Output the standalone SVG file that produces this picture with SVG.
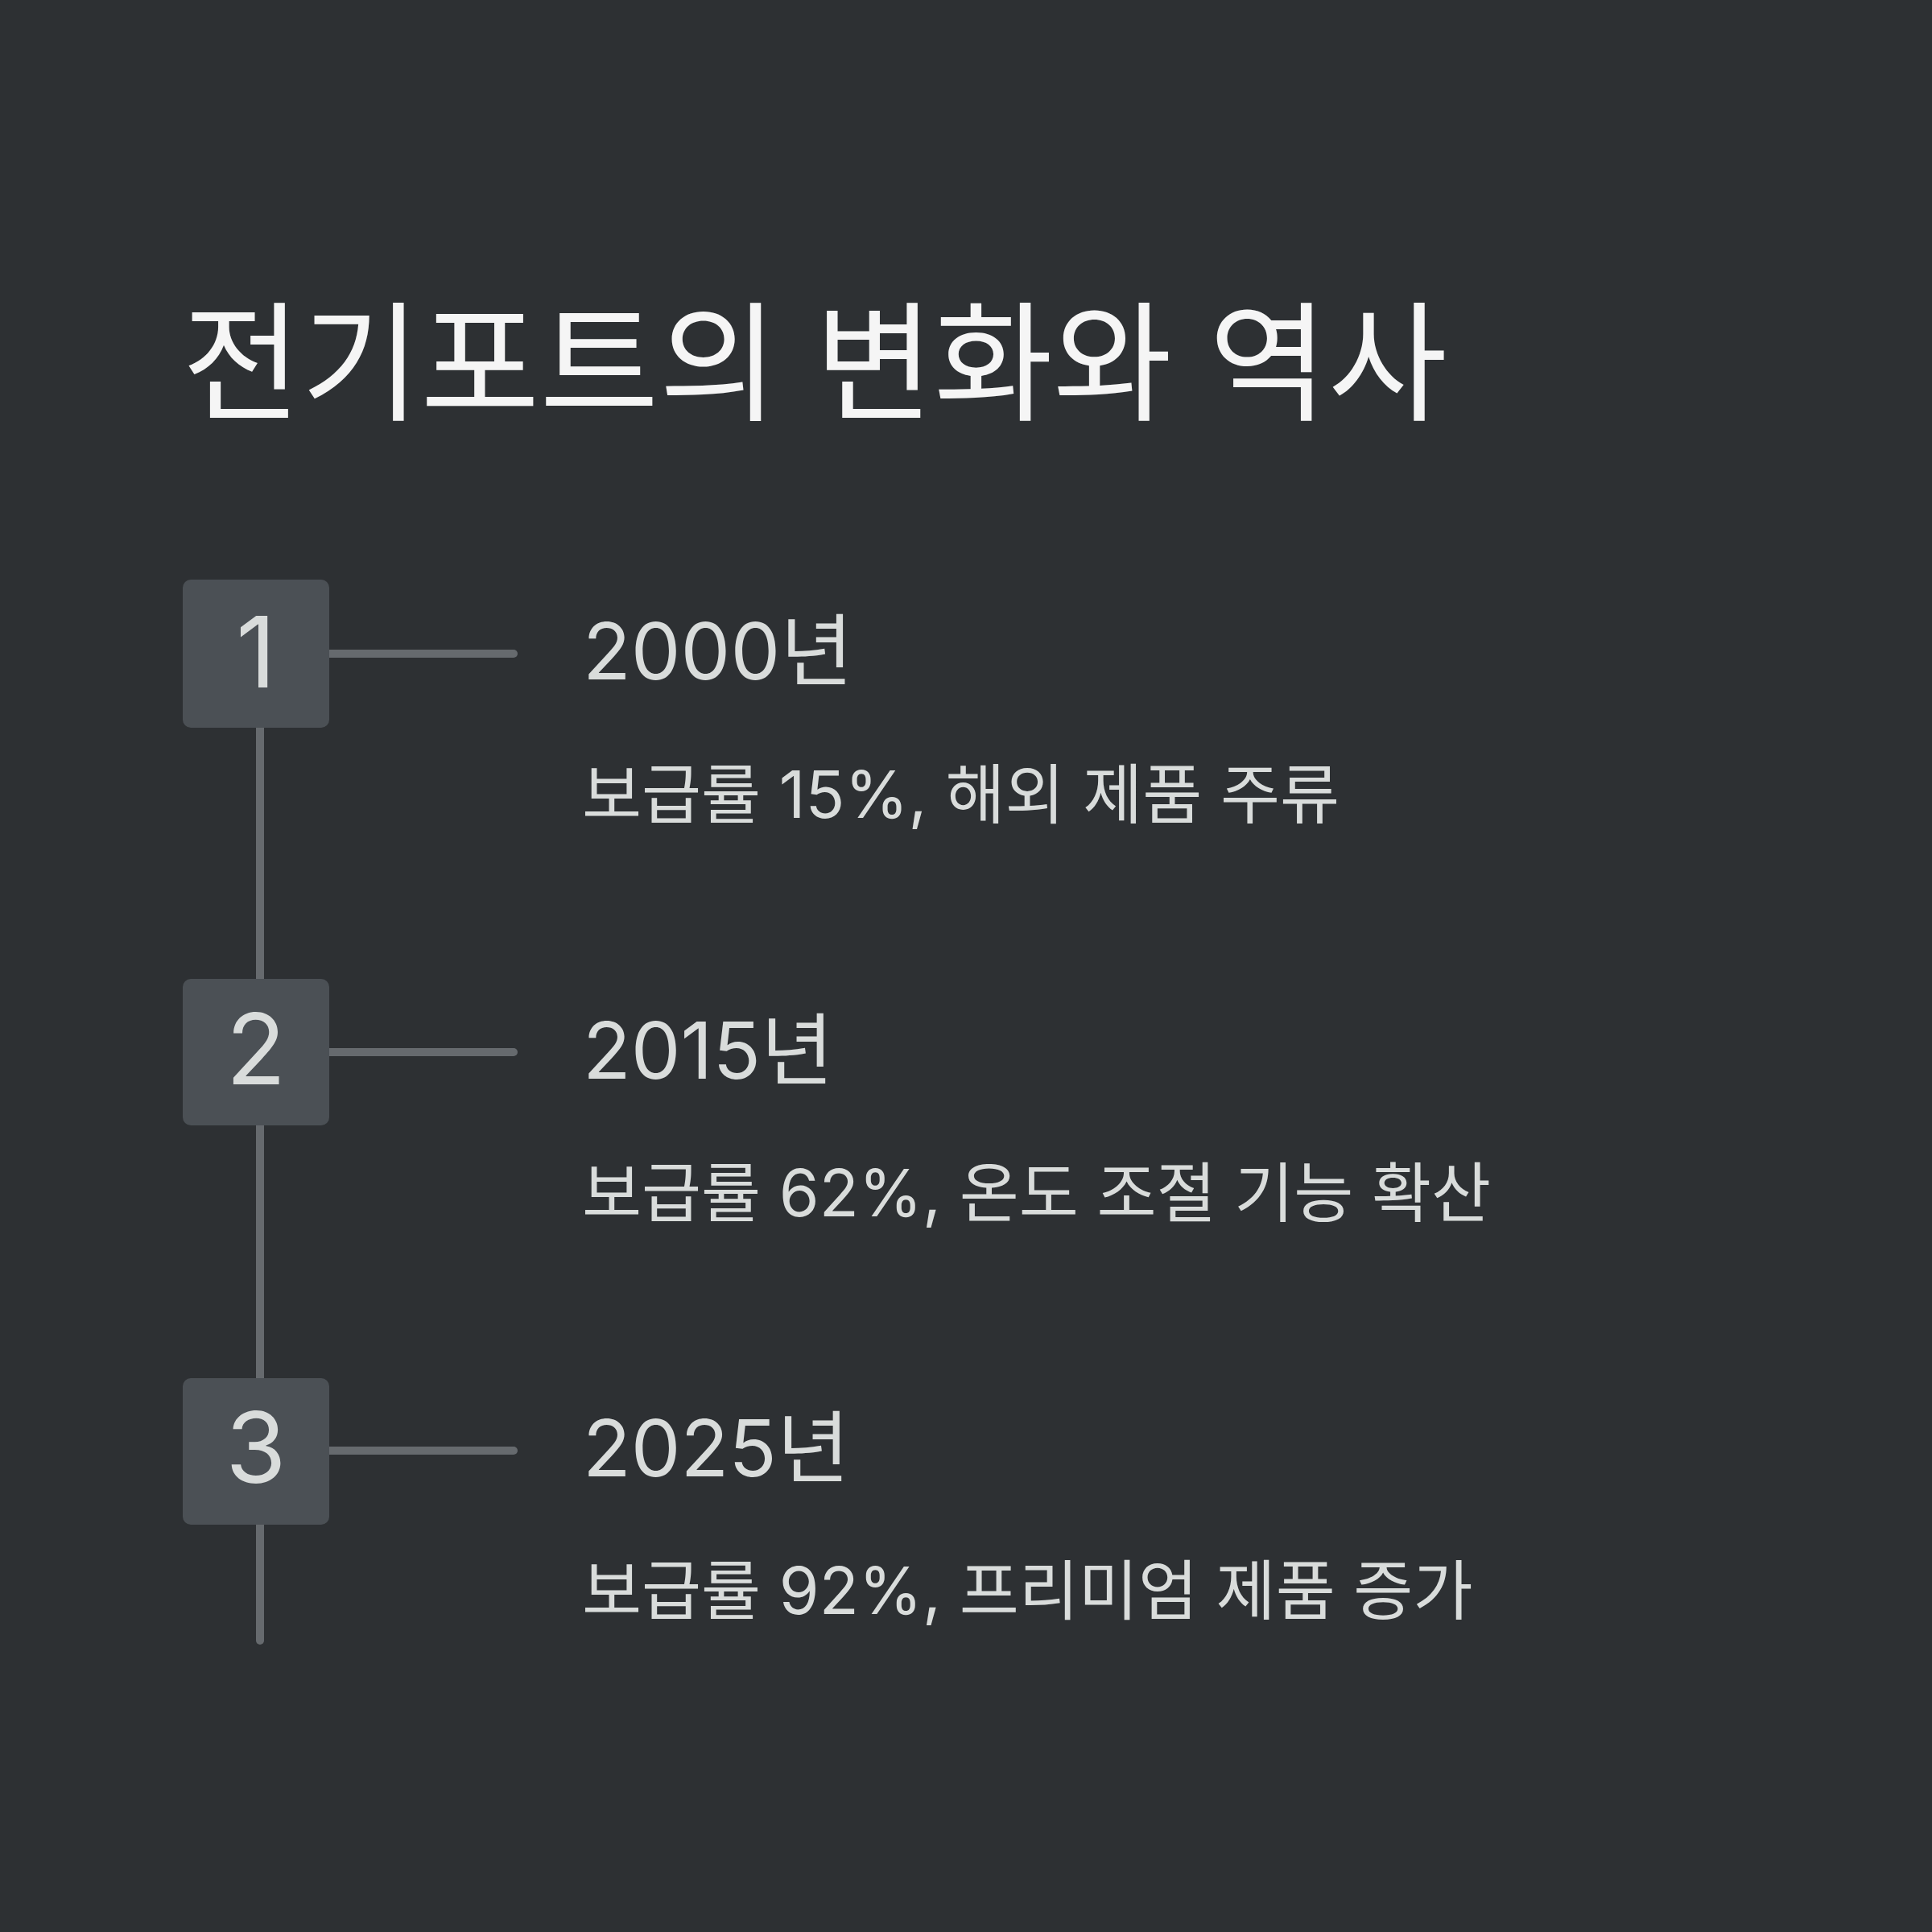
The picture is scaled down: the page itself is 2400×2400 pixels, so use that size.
<svg xmlns="http://www.w3.org/2000/svg" width="2400" height="2400" viewBox="0 0 2400 2400">
<style>
.title{font-family:Inter,"Noto Sans CJK KR",sans-serif;font-size:161px;fill:#f5f5f5;font-weight:400}
.num{font-family:Inter,"Noto Sans CJK KR",sans-serif;font-size:122px;fill:#d9dcdb;text-anchor:middle}
.year{font-family:Inter,"Noto Sans CJK KR",sans-serif;font-size:98px;fill:#d9dcdb}
.desc{font-family:Inter,"Noto Sans CJK KR",sans-serif;font-size:80.5px;fill:#d9dcdb}
.box{fill:#4b5055}
.conn{stroke:#666a6e;stroke-width:10;stroke-linecap:round;fill:none}
</style>
<rect width="2400" height="2400" fill="#2d3033"/>
<text class="title" x="226" y="510">전기포트의 변화와 역사</text>
<g id="connectors">
<line class="conn" x1="323" y1="812" x2="323" y2="2038"/>
<line class="conn" x1="400" y1="812" x2="638" y2="812"/>
<line class="conn" x1="400" y1="1307" x2="638" y2="1307"/>
<line class="conn" x1="400" y1="1802" x2="638" y2="1802"/>
</g>
<g id="node1">
<rect class="box" x="227" y="720" width="182" height="184" rx="10"/>
<text class="num" x="318" y="854">1</text>
<text class="year" x="724" y="844">2000년</text>
<text class="desc" x="723" y="1016">보급률 15%, 해외 제품 주류</text>
</g>
<g id="node2">
<rect class="box" x="227" y="1216" width="182" height="182" rx="10"/>
<text class="num" x="318" y="1347">2</text>
<text class="year" x="724" y="1340">2015년</text>
<text class="desc" x="723" y="1511">보급률 62%, 온도 조절 기능 확산</text>
</g>
<g id="node3">
<rect class="box" x="227" y="1712" width="182" height="182" rx="10"/>
<text class="num" x="318" y="1842">3</text>
<text class="year" x="724" y="1834">2025년</text>
<text class="desc" x="723" y="2005">보급률 92%, 프리미엄 제품 증가</text>
</g>
</svg>
